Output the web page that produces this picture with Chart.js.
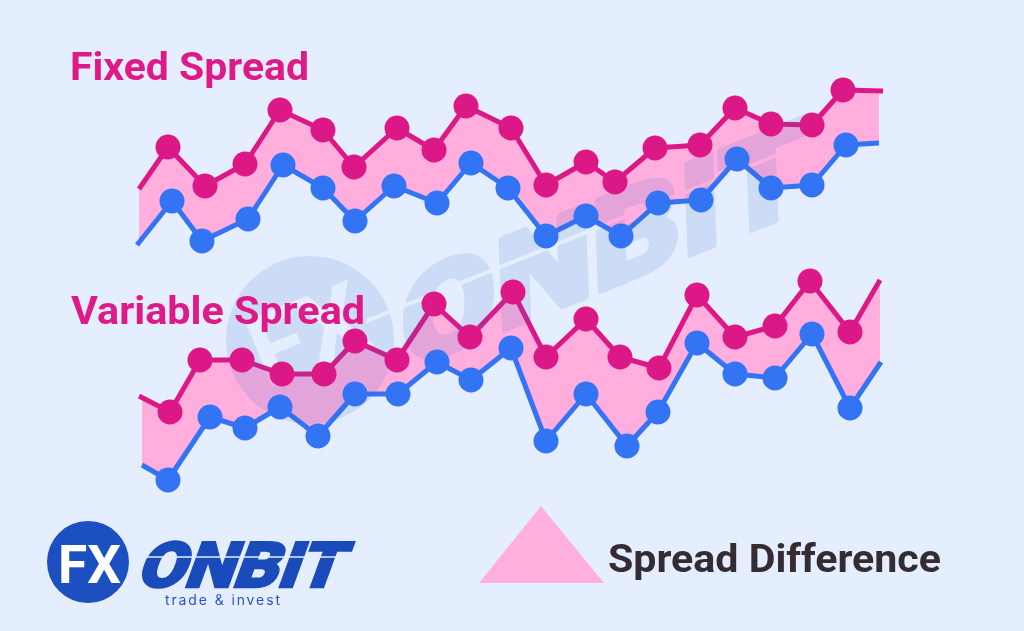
<!DOCTYPE html>
<html>
<head>
<meta charset="utf-8">
<title>Fixed Spread vs Variable Spread</title>
<script src="https://cdn.jsdelivr.net/npm/chart.js@4"></script>
<style>
  html, body { margin: 0; background: #e5eefe; }
  #wrap { position: relative; width: 1024px; height: 631px; overflow: hidden; }
  canvas { position: absolute; left: 0; top: 0; }
  svg { position: absolute; left: 0; top: 0; }
  .head { font: 700 38px Roboto, sans-serif; fill: #dd1a87; }
  .note { font: 700 39px Roboto, sans-serif; fill: #342c33; }
</style>
</head>
<body>
<div id="wrap">
  <canvas id="spreadChart" width="1024" height="631"></canvas>
  <svg width="1024" height="631" viewBox="0 0 1024 631">
    <text class="head" x="70" y="80" textLength="239" lengthAdjust="spacingAndGlyphs">Fixed Spread</text>
    <text class="head" x="71" y="324" textLength="294" lengthAdjust="spacingAndGlyphs">Variable Spread</text>

    <polygon points="479,583 541,506 604,583" fill="#ffb0de"/>
    <text class="note" x="608" y="572" textLength="333" lengthAdjust="spacingAndGlyphs">Spread Difference</text>

    <circle cx="88" cy="562" r="41" fill="#1c4fc0"/>
    <text x="58" y="583" font-family="Roboto" font-weight="700" font-size="53" fill="#fff" textLength="63" lengthAdjust="spacingAndGlyphs">FX</text>
    <text transform="translate(135 587) skewX(-20)" font-family="Roboto" font-weight="900" font-size="63" fill="#1a4bbb" stroke="#1a4bbb" stroke-width="2.5" textLength="204" lengthAdjust="spacingAndGlyphs">ONBIT</text>
    <line x1="130" y1="557" x2="352" y2="557" stroke="#e5eefe" stroke-width="1.5"/>
    <text x="165" y="605" font-family="Inter" font-size="14" fill="#2a55c0" textLength="115" lengthAdjust="spacing">trade &amp; invest</text>
  </svg>
</div>

<script>
// values, in chart units (x along, y up from the bottom)
const fixedAskX = [139, 168, 205, 245, 280, 323, 354, 397, 434, 466, 511, 546, 586, 615, 655, 700, 735, 771, 812, 843, 883];
const fixedAsk = [442, 484, 445, 467, 521, 501, 464, 503, 481, 525, 503, 446, 469, 449, 483, 486, 523, 507, 506, 541, 540];
const fixedBidX = [137, 172, 202, 248, 283, 323, 355, 394, 437, 471, 508, 546, 586, 621, 658, 701, 737, 771, 812, 846, 879];
const fixedBid = [386, 430, 390, 412, 466, 443, 410, 445, 428, 468, 443, 395, 415, 395, 428, 431, 472, 443, 446, 486, 488];

const variableAskX = [139, 170, 200, 242, 282, 324, 355, 397, 434, 470, 513, 546, 586, 620, 659, 697, 735, 775, 810, 850, 880];
const variableAsk = [235, 219, 271, 271, 257, 257, 290, 271, 327, 294, 339, 274, 312, 274, 263, 336, 294, 305, 350, 299, 351];
const variableBidX = [142, 168, 210, 245, 280, 318, 355, 398, 437, 471, 511, 546, 586, 627, 658, 697, 735, 775, 812, 850, 881];
const variableBid = [166, 151, 214, 203, 224, 195, 237, 237, 269, 251, 283, 190, 237, 185, 219, 288, 257, 253, 297, 223, 269];

const MAGENTA = "#dc1886";
const BLUE = "#3374f5";
const PINK = "#ffaede";
const WATERMARK = "rgb(40, 100, 190)";

function pairs(xs, ys) {
  return xs.map((x, i) => ({ x: x, y: ys[i] }));
}

function lineSet(xs, ys, color, fillTo) {
  return {
    data: pairs(xs, ys),
    borderColor: color,
    borderWidth: 5,
    pointRadius: 0,
    tension: 0,
    fill: fillTo === undefined ? false : { target: fillTo, above: PINK, below: PINK },
    order: 2
  };
}

// the end points of each line carry no marker
function markerSet(xs, ys, color) {
  return {
    data: pairs(xs, ys).slice(1, -1),
    showLine: false,
    pointRadius: 12.5,
    pointBackgroundColor: color,
    pointBorderWidth: 0,
    order: 1
  };
}

// faint logo sits over the lines and fill but under the markers
const watermark = {
  id: "watermark",
  afterDatasetDraw(chart, args) {
    if (args.index !== 0) return;
    const off = document.createElement("canvas");
    off.width = 1024;
    off.height = 631;
    const c = off.getContext("2d");
    c.fillStyle = WATERMARK;
    c.strokeStyle = WATERMARK;

    c.beginPath();
    c.arc(310, 340, 84, 0, Math.PI * 2);
    c.fill();

    c.save();
    c.globalCompositeOperation = "destination-out";
    c.translate(310, 340);
    c.rotate(-22 * Math.PI / 180);
    c.font = "700 100px Roboto";
    c.textAlign = "center";
    c.textBaseline = "middle";
    c.fillText("FX", 0, 4);
    c.restore();

    c.save();
    c.translate(403, 371);
    c.rotate(-22 * Math.PI / 180);
    c.transform(1, 0, -0.36, 1, 0, 0);
    c.font = "900 120px Roboto";
    const w = c.measureText("ONBIT").width;
    c.scale(436 / w, 1);
    c.lineWidth = 5;
    c.lineJoin = "round";
    c.fillText("ONBIT", 0, 0);
    c.strokeText("ONBIT", 0, 0);
    c.globalCompositeOperation = "destination-out";
    c.fillRect(-30, -62, w + 60, 4);
    c.restore();

    const ctx = chart.ctx;
    ctx.save();
    ctx.globalAlpha = 0.13;
    ctx.drawImage(off, 0, 0, chart.width, chart.height);
    ctx.restore();
  }
};

document.addEventListener("DOMContentLoaded", () => {
  const ctx = document.getElementById("spreadChart").getContext("2d");

  new Chart(ctx, {
    type: "scatter",
    data: {
      datasets: [
        lineSet(fixedBidX, fixedBid, BLUE),
        lineSet(fixedAskX, fixedAsk, MAGENTA, 0),
        lineSet(variableBidX, variableBid, BLUE),
        lineSet(variableAskX, variableAsk, MAGENTA, 2),
        markerSet(fixedBidX, fixedBid, BLUE),
        markerSet(fixedAskX, fixedAsk, MAGENTA),
        markerSet(variableBidX, variableBid, BLUE),
        markerSet(variableAskX, variableAsk, MAGENTA)
      ]
    },
    options: {
      responsive: false,
      animation: false,
      layout: { padding: 0, autoPadding: false },
      datasets: { scatter: { showLine: true } },
      elements: { line: { borderCapStyle: "butt", borderJoinStyle: "round" } },
      plugins: {
        legend: { display: false },
        tooltip: { enabled: false }
      },
      scales: {
        x: { type: "linear", display: false, min: 0, max: 1024 },
        y: { type: "linear", display: false, min: 0, max: 631 }
      }
    },
    plugins: [watermark]
  });
});
</script>
</body>
</html>
